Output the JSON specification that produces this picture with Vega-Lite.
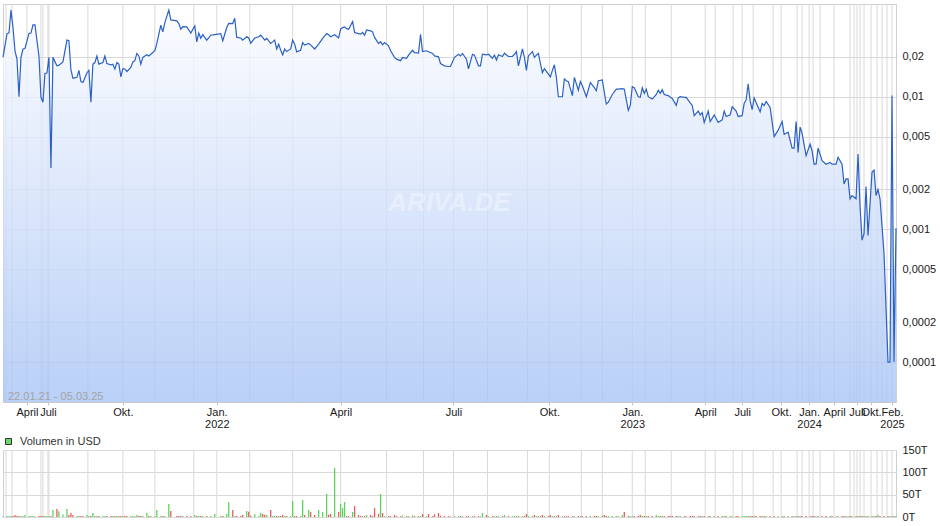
{
"$schema":"https://vega.github.io/schema/vega-lite/v6.json",
"padding":{"left":0,"top":3,"right":4,"bottom":4},
"bounds":"flush",
"spacing":48,
"background":"white",
"config":{"font":"Liberation Sans","view":{"stroke":"#cfcfcf","strokeWidth":1},"axis":{"gridColor":"#d9d9d9","gridWidth":1,"labelFont":"Liberation Sans","labelFontSize":11,"labelColor":"#1a1a1a","title":null}},
"datasets":{
"monate":[{"m":1.5},{"m":4.5},{"m":12},{"m":19},{"m":20},{"m":22.5},{"m":23},{"m":42.5},{"m":60},{"m":76},{"m":95.5},{"m":107},{"m":123.5},{"m":145},{"m":169},{"m":192},{"m":210.5},{"m":225.5},{"m":242.5},{"m":262.5},{"m":273.5},{"m":289.5},{"m":300},{"m":315},{"m":321.5},{"m":334.5},{"m":351.5},{"m":356.5},{"m":365.5},{"m":370},{"m":375.5},{"m":385.5},{"m":389.5},{"m":397.5},{"m":400},{"m":403.5},{"m":405.5},{"m":409},{"m":416},{"m":424},{"m":426},{"m":427.5},{"m":429},{"m":431},{"m":434.5},{"m":437.5},{"m":440},{"m":442.5},{"m":445}],
"kurs":[
{"n":0,"p":0.0198,"v":2},{"n":2,"p":0.0298,"v":2},{"n":3,"p":0.0303,"v":2},{"n":4,"p":0.045,"v":2},{"n":5,"p":0.0332,"v":2},{"n":6,"p":0.0222,"v":4.5},{"n":7,"p":0.0192,"v":2},{"n":8,"p":0.01,"v":2},{"n":9,"p":0.0198,"v":2},{"n":10,"p":0.0229,"v":2},{"n":11,"p":0.0231,"v":4.5},{"n":13,"p":0.03,"v":2},{"n":14,"p":0.0302,"v":2},{"n":15,"p":0.0348,"v":2},{"n":16,"p":0.0348,"v":2},{"n":18,"p":0.0203,"v":2},{"n":19,"p":0.0099,"v":2},{"n":20,"p":0.0091,"v":2},{"n":21,"p":0.015,"v":2},{"n":22,"p":0.0151,"v":2},{"n":23,"p":0.0198,"v":2},{"n":24,"p":0.0029,"v":2},{"n":25,"p":0.0198,"v":15.7},{"n":27,"p":0.0171,"v":17.9},{"n":28,"p":0.0173,"v":12.7},{"n":30,"p":0.0183,"v":6},{"n":32,"p":0.0267,"v":17.9},{"n":33,"p":0.0264,"v":4.5},{"n":34,"p":0.0159,"v":9},{"n":35,"p":0.0138,"v":4.5},{"n":37,"p":0.014,"v":2},{"n":38,"p":0.0158,"v":2},{"n":39,"p":0.013,"v":2},{"n":40,"p":0.0128,"v":2},{"n":42,"p":0.0151,"v":4.5},{"n":43,"p":0.0158,"v":2},{"n":44,"p":0.0091,"v":2},{"n":45,"p":0.0176,"v":9},{"n":46,"p":0.0181,"v":2},{"n":47,"p":0.0203,"v":2},{"n":48,"p":0.0176,"v":2},{"n":50,"p":0.0181,"v":2},{"n":51,"p":0.0203,"v":2},{"n":52,"p":0.0178,"v":2},{"n":54,"p":0.0174,"v":2},{"n":55,"p":0.0176,"v":2},{"n":56,"p":0.0162,"v":2},{"n":57,"p":0.0181,"v":2},{"n":58,"p":0.0176,"v":2},{"n":59,"p":0.0141,"v":2},{"n":60,"p":0.0163,"v":2},{"n":61,"p":0.0162,"v":2},{"n":62,"p":0.0155,"v":2},{"n":64,"p":0.0166,"v":2},{"n":65,"p":0.0183,"v":2},{"n":66,"p":0.0187,"v":2},{"n":67,"p":0.0212,"v":4.5},{"n":68,"p":0.0203,"v":2},{"n":69,"p":0.0176,"v":2},{"n":70,"p":0.0198,"v":2},{"n":72,"p":0.0207,"v":9},{"n":73,"p":0.0203,"v":2},{"n":74,"p":0.0209,"v":2},{"n":76,"p":0.0222,"v":2},{"n":77,"p":0.0252,"v":15.7},{"n":79,"p":0.0346,"v":2},{"n":80,"p":0.0308,"v":2},{"n":81,"p":0.0362,"v":2},{"n":83,"p":0.045,"v":29},{"n":84,"p":0.0379,"v":13.4},{"n":87,"p":0.0373,"v":2},{"n":88,"p":0.0356,"v":2},{"n":89,"p":0.0323,"v":2},{"n":90,"p":0.0337,"v":2},{"n":92,"p":0.0336,"v":2},{"n":94,"p":0.0302,"v":2},{"n":96,"p":0.0342,"v":4.5},{"n":97,"p":0.0259,"v":2},{"n":98,"p":0.0302,"v":2},{"n":99,"p":0.0276,"v":2},{"n":100,"p":0.0294,"v":2},{"n":102,"p":0.0267,"v":2},{"n":104,"p":0.0291,"v":2},{"n":106,"p":0.0294,"v":6.7},{"n":109,"p":0.0299,"v":2},{"n":110,"p":0.0264,"v":2},{"n":112,"p":0.0332,"v":6.7},{"n":113,"p":0.0357,"v":33.6},{"n":115,"p":0.0356,"v":15.7},{"n":116,"p":0.039,"v":2},{"n":117,"p":0.028,"v":2},{"n":119,"p":0.0277,"v":2},{"n":120,"p":0.0267,"v":4.5},{"n":122,"p":0.0283,"v":13.4},{"n":123,"p":0.0277,"v":12},{"n":124,"p":0.0253,"v":3},{"n":126,"p":0.0277,"v":6},{"n":128,"p":0.0283,"v":2},{"n":129,"p":0.0291,"v":9},{"n":130,"p":0.028,"v":6.7},{"n":131,"p":0.0267,"v":5},{"n":132,"p":0.0275,"v":4.5},{"n":134,"p":0.0252,"v":15.7},{"n":135,"p":0.0259,"v":2},{"n":136,"p":0.0267,"v":2},{"n":137,"p":0.0229,"v":2},{"n":138,"p":0.0249,"v":2},{"n":139,"p":0.0224,"v":2},{"n":140,"p":0.0207,"v":4.5},{"n":141,"p":0.0229,"v":2},{"n":142,"p":0.0219,"v":2},{"n":144,"p":0.0229,"v":2},{"n":145,"p":0.0267,"v":35.8},{"n":146,"p":0.0249,"v":2},{"n":147,"p":0.0218,"v":2},{"n":149,"p":0.0224,"v":2},{"n":150,"p":0.0256,"v":38},{"n":151,"p":0.0245,"v":4.5},{"n":153,"p":0.0252,"v":15.7},{"n":154,"p":0.0246,"v":11.2},{"n":156,"p":0.0229,"v":4.5},{"n":158,"p":0.0249,"v":15.7},{"n":160,"p":0.0275,"v":11.2},{"n":162,"p":0.0299,"v":51.5},{"n":163,"p":0.0293,"v":5.2},{"n":164,"p":0.0283,"v":6.7},{"n":166,"p":0.0293,"v":109.7},{"n":168,"p":0.0277,"v":11.2},{"n":169,"p":0.0323,"v":29},{"n":170,"p":0.0332,"v":20},{"n":171,"p":0.0336,"v":33.6},{"n":172,"p":0.0326,"v":2},{"n":173,"p":0.0323,"v":2},{"n":175,"p":0.0369,"v":11.2},{"n":176,"p":0.0305,"v":24.6},{"n":178,"p":0.0299,"v":4.5},{"n":179,"p":0.0296,"v":2},{"n":180,"p":0.0305,"v":2},{"n":181,"p":0.0291,"v":2},{"n":182,"p":0.0319,"v":4.5},{"n":184,"p":0.0314,"v":4.5},{"n":185,"p":0.0308,"v":2},{"n":186,"p":0.028,"v":20},{"n":188,"p":0.0252,"v":6.7},{"n":189,"p":0.026,"v":51.5},{"n":190,"p":0.0246,"v":9},{"n":191,"p":0.0256,"v":2},{"n":193,"p":0.0242,"v":2},{"n":194,"p":0.0222,"v":2},{"n":196,"p":0.0198,"v":4.5},{"n":197,"p":0.0192,"v":2},{"n":199,"p":0.0187,"v":2},{"n":200,"p":0.0198,"v":3.7},{"n":202,"p":0.0195,"v":2},{"n":203,"p":0.0206,"v":2},{"n":205,"p":0.0224,"v":3.7},{"n":206,"p":0.0215,"v":2},{"n":208,"p":0.0213,"v":2},{"n":209,"p":0.0296,"v":2},{"n":210,"p":0.0219,"v":6.7},{"n":212,"p":0.0222,"v":2},{"n":213,"p":0.0218,"v":6.7},{"n":215,"p":0.0212,"v":2},{"n":216,"p":0.0203,"v":6},{"n":218,"p":0.02,"v":9},{"n":219,"p":0.0178,"v":3},{"n":221,"p":0.0171,"v":2},{"n":223,"p":0.0169,"v":2},{"n":224,"p":0.0169,"v":2},{"n":226,"p":0.0198,"v":2},{"n":228,"p":0.0209,"v":2},{"n":229,"p":0.0203,"v":2},{"n":230,"p":0.0212,"v":2},{"n":232,"p":0.0192,"v":2},{"n":233,"p":0.0162,"v":2},{"n":235,"p":0.0209,"v":2},{"n":236,"p":0.0206,"v":2},{"n":238,"p":0.0171,"v":2},{"n":239,"p":0.0171,"v":2},{"n":240,"p":0.0209,"v":9},{"n":242,"p":0.0207,"v":4.5},{"n":243,"p":0.0209,"v":2},{"n":245,"p":0.0195,"v":2},{"n":246,"p":0.0206,"v":2},{"n":247,"p":0.0189,"v":2},{"n":248,"p":0.0207,"v":2},{"n":250,"p":0.0201,"v":2},{"n":251,"p":0.0213,"v":4.5},{"n":253,"p":0.0201,"v":2},{"n":255,"p":0.0201,"v":2},{"n":256,"p":0.0209,"v":2},{"n":257,"p":0.0219,"v":2},{"n":258,"p":0.0171,"v":2},{"n":260,"p":0.0229,"v":2},{"n":261,"p":0.0198,"v":2},{"n":262,"p":0.0158,"v":6.7},{"n":263,"p":0.0203,"v":2},{"n":265,"p":0.0219,"v":2},{"n":266,"p":0.0198,"v":4.5},{"n":267,"p":0.0206,"v":2},{"n":268,"p":0.0212,"v":2},{"n":269,"p":0.0178,"v":2},{"n":270,"p":0.0152,"v":4.5},{"n":271,"p":0.0163,"v":2},{"n":273,"p":0.0148,"v":2},{"n":274,"p":0.0141,"v":4.5},{"n":275,"p":0.0158,"v":2},{"n":276,"p":0.0174,"v":2},{"n":277,"p":0.014,"v":2},{"n":278,"p":0.01,"v":4.5},{"n":280,"p":0.01,"v":2},{"n":281,"p":0.0136,"v":2},{"n":282,"p":0.0132,"v":2},{"n":283,"p":0.013,"v":2},{"n":285,"p":0.0102,"v":2},{"n":286,"p":0.014,"v":2},{"n":288,"p":0.0112,"v":2},{"n":289,"p":0.013,"v":2},{"n":290,"p":0.0121,"v":2},{"n":292,"p":0.01,"v":2},{"n":294,"p":0.0128,"v":2},{"n":296,"p":0.0117,"v":2},{"n":297,"p":0.0111,"v":2},{"n":298,"p":0.0132,"v":2},{"n":300,"p":0.0134,"v":2},{"n":301,"p":0.0108,"v":4.5},{"n":302,"p":0.0088,"v":2},{"n":303,"p":0.0091,"v":2},{"n":305,"p":0.0104,"v":2},{"n":307,"p":0.0114,"v":2},{"n":308,"p":0.0114,"v":2},{"n":310,"p":0.0115,"v":4.5},{"n":311,"p":0.0114,"v":11.2},{"n":313,"p":0.0079,"v":2},{"n":314,"p":0.0086,"v":2},{"n":315,"p":0.0119,"v":2},{"n":316,"p":0.0117,"v":2},{"n":318,"p":0.01,"v":2},{"n":319,"p":0.0099,"v":4.5},{"n":320,"p":0.0117,"v":2},{"n":321,"p":0.0106,"v":2},{"n":322,"p":0.0114,"v":2},{"n":323,"p":0.01,"v":2},{"n":325,"p":0.0096,"v":2},{"n":327,"p":0.0104,"v":4.5},{"n":328,"p":0.0112,"v":2},{"n":329,"p":0.0106,"v":2},{"n":330,"p":0.0113,"v":2},{"n":331,"p":0.0104,"v":2},{"n":333,"p":0.0102,"v":2},{"n":334,"p":0.0099,"v":2},{"n":335,"p":0.0097,"v":2},{"n":337,"p":0.0086,"v":2},{"n":338,"p":0.0098,"v":2},{"n":339,"p":0.01,"v":2},{"n":341,"p":0.0099,"v":2},{"n":342,"p":0.0099,"v":2},{"n":344,"p":0.009,"v":2},{"n":345,"p":0.0086,"v":2},{"n":346,"p":0.0072,"v":2},{"n":348,"p":0.0078,"v":2},{"n":349,"p":0.0073,"v":2},{"n":350,"p":0.0076,"v":2},{"n":351,"p":0.0064,"v":2},{"n":353,"p":0.0078,"v":2},{"n":354,"p":0.0065,"v":2},{"n":356,"p":0.0073,"v":2},{"n":358,"p":0.0064,"v":2},{"n":360,"p":0.0067,"v":2},{"n":361,"p":0.0078,"v":2},{"n":362,"p":0.0071,"v":2.5},{"n":364,"p":0.0073,"v":2},{"n":365,"p":0.0084,"v":2},{"n":367,"p":0.0078,"v":2},{"n":368,"p":0.0071,"v":2},{"n":370,"p":0.0072,"v":2},{"n":371,"p":0.0089,"v":2},{"n":372,"p":0.0095,"v":2},{"n":373,"p":0.0125,"v":2},{"n":374,"p":0.0093,"v":2},{"n":375,"p":0.008,"v":2},{"n":376,"p":0.0098,"v":2},{"n":377,"p":0.009,"v":2},{"n":379,"p":0.0077,"v":2},{"n":380,"p":0.0089,"v":2},{"n":381,"p":0.0086,"v":2},{"n":382,"p":0.0092,"v":2},{"n":384,"p":0.0083,"v":2},{"n":386,"p":0.005,"v":2},{"n":388,"p":0.0056,"v":2},{"n":390,"p":0.0065,"v":2},{"n":391,"p":0.0052,"v":2},{"n":393,"p":0.0054,"v":2},{"n":395,"p":0.0041,"v":2},{"n":396,"p":0.0041,"v":2},{"n":397,"p":0.0065,"v":2},{"n":398,"p":0.0038,"v":2},{"n":399,"p":0.0059,"v":2},{"n":400,"p":0.0053,"v":2},{"n":402,"p":0.0036,"v":2},{"n":404,"p":0.0044,"v":2},{"n":405,"p":0.0039,"v":2},{"n":406,"p":0.0031,"v":2},{"n":407,"p":0.0031,"v":2},{"n":408,"p":0.0041,"v":2},{"n":410,"p":0.0033,"v":2},{"n":412,"p":0.0031,"v":2},{"n":414,"p":0.0032,"v":2},{"n":415,"p":0.0031,"v":2},{"n":417,"p":0.0031,"v":2},{"n":418,"p":0.0035,"v":2},{"n":420,"p":0.0031,"v":2},{"n":421,"p":0.0022,"v":2},{"n":422,"p":0.0024,"v":2},{"n":423,"p":0.0024,"v":2},{"n":424,"p":0.0017,"v":2},{"n":425,"p":0.0018,"v":2},{"n":427,"p":0.0017,"v":2},{"n":428,"p":0.0037,"v":2},{"n":429,"p":0.0015,"v":2},{"n":430,"p":0.00083,"v":2},{"n":431,"p":0.00093,"v":2},{"n":432,"p":0.0021,"v":2},{"n":433,"p":0.0009,"v":2},{"n":435,"p":0.0027,"v":2},{"n":436,"p":0.0028,"v":2},{"n":437,"p":0.0018,"v":2},{"n":438,"p":0.002,"v":4.5},{"n":439,"p":0.0017,"v":2},{"n":441,"p":0.00066,"v":2},{"n":443,"p":0.0001,"v":2},{"n":444,"p":0.0001,"v":2},{"n":445,"p":0.0102,"v":2},{"n":446,"p":0.0001,"v":2},{"n":447,"p":0.00102,"v":2}
]},
"vconcat":[
{"width":893,"height":398,
 "layer":[
  {"data":{"name":"monate"},
   "mark":{"type":"rule","color":"#d9d9d9","strokeWidth":1},
   "encoding":{"x":{"field":"m","type":"quantitative","scale":{"domain":[0,447],"nice":false,"zero":false},
     "axis":{"values":[12,22.5,60,107,169,225.5,273.5,315,351.5,370,389.5,403.5,416,427.5,434.5,445],
      "labelExpr":"datum.value==12||datum.value==169||datum.value==351.5||datum.value==416?'April':datum.value==22.5||datum.value==225.5||datum.value==370||datum.value==427.5?'Juli':datum.value==60||datum.value==273.5||datum.value==389.5||datum.value==434.5?'Okt.':datum.value==107?['Jan.','2022']:datum.value==315?['Jan.','2023']:datum.value==403.5?['Jan.','2024']:['Feb.','2025']",
      "grid":false,"ticks":true,"tickSize":3,"tickColor":"#c8c8c8","domain":true,"domainColor":"#c8c8c8","labelPadding":1,"labelLineHeight":12,"labelOverlap":false,"labelFlush":false,"labelBound":false}}}},
  {"data":{"name":"kurs"},
   "mark":{"type":"area","fillOpacity":0.8,"color":{"gradient":"linear","x1":0,"y1":0,"x2":0,"y2":1,"stops":[{"offset":0,"color":"#fbfcff"},{"offset":1,"color":"#a8c4f5"}]}},
   "encoding":{
    "x":{"field":"n","type":"quantitative"},
    "y":{"field":"p","type":"quantitative","scale":{"type":"log","domain":[0.00005,0.05],"nice":false},
     "axis":{"orient":"right","values":[0.02,0.01,0.005,0.002,0.001,0.0005,0.0002,0.0001],"labelExpr":"replace(datum.value + '', '.', ',')","ticks":false,"domain":false,"labelPadding":6,"grid":true,"labelOverlap":false,"labelFlush":false,"labelBound":false}},
    "y2":{"datum":0.00005}}},
  {"data":{"name":"kurs"},
   "mark":{"type":"line","color":"#2b61c6","strokeWidth":1.2},
   "encoding":{"x":{"field":"n","type":"quantitative"},"y":{"field":"p","type":"quantitative"}}},
  {"data":{"values":[{"t":"22.01.21 - 05.03.25"}]},
   "mark":{"type":"text","align":"left","baseline":"alphabetic","dy":-2,"fontSize":11,"color":"#a3a3a3"},
   "encoding":{"x":{"datum":2.5},"y":{"datum":0.00005},"text":{"field":"t"}}},
  {"data":{"values":[{"w":"ARIVA.DE"}]},
   "mark":{"type":"text","fontSize":26,"fontWeight":"bold","fontStyle":"italic","color":"#ffffff","opacity":0.35},
   "encoding":{"x":{"datum":223.5},"y":{"datum":0.00157},"text":{"field":"w"}}}
 ]},
{"width":893,"height":67,
 "layer":[
  {"data":{"name":"monate"},
   "mark":{"type":"rule","color":"#d9d9d9","strokeWidth":1},
   "encoding":{"x":{"field":"m","type":"quantitative","scale":{"domain":[0,447],"nice":false,"zero":false},"axis":null}}},
  {"data":{"name":"kurs"},
   "transform":[{"window":[{"op":"lag","field":"p","as":"pp"}],"sort":[{"field":"n","order":"ascending"}]},{"calculate":"datum.pp == null ? 'flat' : (datum.p > datum.pp ? 'up' : (datum.p < datum.pp ? 'down' : 'flat'))","as":"dir"}],
   "mark":{"type":"rule","strokeWidth":1.3},
   "encoding":{
    "x":{"field":"n","type":"quantitative","axis":null},
    "y":{"field":"v","type":"quantitative","scale":{"domain":[0,150],"nice":false},
     "axis":{"orient":"right","values":[0,50,100,150],"labelExpr":"datum.value + 'T'","ticks":false,"domain":false,"labelPadding":6,"grid":true,"labelOverlap":false,"labelFlush":false,"labelBound":false}},
    "y2":{"datum":0},
    "color":{"field":"dir","type":"nominal","scale":{"domain":["up","down","flat"],"range":["#5dd35d","#e35d5d","#b5b5b5"]},"legend":null}}},
  {"data":{"values":[{"s":"Volumen in USD"}]},
   "mark":{"type":"square","opacity":0},
   "encoding":{"fill":{"field":"s","type":"nominal","scale":{"range":["#66d966"]},
    "legend":{"title":null,"orient":"none","legendX":0,"legendY":432,"symbolType":"square","symbolSize":36,"symbolOpacity":1,"symbolStrokeColor":"#333333","symbolStrokeWidth":1,"labelFontSize":11,"labelColor":"#333333","labelOffset":6,"padding":0}}}}
 ]}
]
}
